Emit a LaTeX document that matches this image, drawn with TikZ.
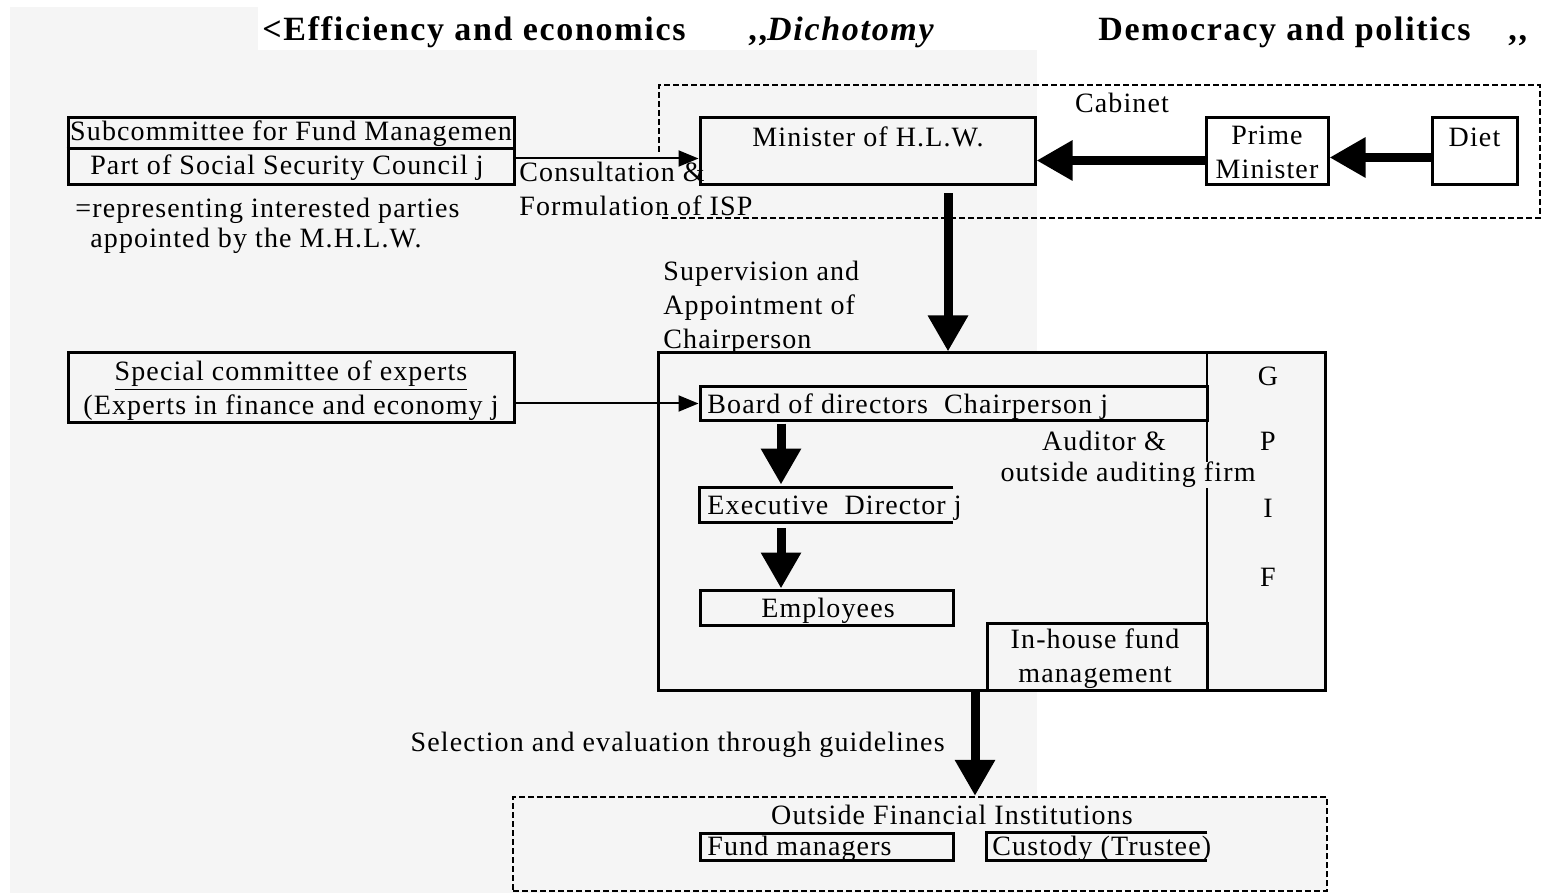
\documentclass[tikz,border=0pt]{standalone}
\usepackage{fontspec}
\setmainfont{Liberation Serif}[LetterSpace=4]
\newfontfamily\titlefont{Liberation Serif}[LetterSpace=5]
\usetikzlibrary{arrows.meta,positioning}
\definecolor{fundInk}{HTML}{000000}
\definecolor{fundShade}{HTML}{F5F5F5}

\begin{document}
\begin{tikzpicture}[x=0.5pt,y=-0.5pt,text=fundInk,
  font=\fontsize{14}{17}\selectfont,
  box/.style={draw=fundInk,line width=1.5pt,inner sep=0pt},
  openbox/.style={inner sep=0pt},
  openedge/.style={draw=fundInk,line width=1.5pt},
  dashbox/.style={draw=fundInk,line width=1.1pt,dash pattern=on 3pt off 1.5pt},
  thinarrow/.style={draw=fundInk,line width=1pt,-{Triangle[length=10pt,width=8pt]}},
  bigarrow/.style={draw=fundInk,line width=4.5pt,-{Triangle[length=18pt,width=19pt]}},
  note/.style={inner sep=0pt},
  heading/.style={inner sep=0pt,anchor=base west,font=\titlefont\bfseries\fontsize{17}{20}\selectfont}]
  \path[use as bounding box] (0,0) rectangle (1543,893);
  \fill[fundShade] (10,7) rectangle (258,50);
  \fill[fundShade] (10,50) rectangle (1037,893);

  % Heading row
  \node[heading] (effhead) at (262,41) {<Efficiency and economics};
  \node[heading] (dichot) at (748,41) {,,\textit{Dichotomy}};
  \node[heading] (demhead) at (1098,41) {Democracy and politics};
  \node[heading] (demcomma) at (1508,41) {,,};

  % Cabinet, open at its lower left
  \draw[dashbox] (659,152) -- (659,85) -- (1540,85) -- (1540,218) -- (659,218);
  \node[note] (cabinet) at (1122,103) {Cabinet};
  \node[box,minimum width=167.5pt,minimum height=33.5pt] (minister) at (867.5,151.5) {};
  \node[note] (ministertext) at (868,137) {Minister of H.L.W.};
  \node[box,minimum width=61pt,minimum height=33.5pt] (prime) at (1267,151.5) {};
  \node[note,align=center] (primetext) at (1267,152) {Prime\\Minister};
  \node[box,minimum width=42.5pt,minimum height=33.5pt] (diet) at (1474.5,151.5) {};
  \node[note] (diettext) at (1474.5,137) {Diet};
  \draw[bigarrow] ([yshift=-3pt]diet.west) -- ([yshift=-3pt]prime.east);
  \draw[bigarrow] ([yshift=-4.5pt]prime.west) -- ([yshift=-4.5pt]minister.east);

  % Left-hand committees
  \node[box,minimum width=223pt,minimum height=33.5pt] (subcom) at (291,151.5) {};
  \draw[openedge] ([yshift=1.25pt]subcom.west) -- ([yshift=1.25pt]subcom.east);
  \begin{scope}
    \clip (68,118) rectangle (514,149);
    \node[note] (subcomtop) at (291,134) {Subcommittee for Fund Managemen};
  \end{scope}
  \node[note] (subcombot) at (287,168) {Part of Social Security Council j};
  \node[note,anchor=west] (represent) at (75,211) {=representing interested parties};
  \node[note,anchor=west] (appointed) at (90,241) {appointed by the M.H.L.W.};
  \draw[thinarrow] ([yshift=-3.5pt]subcom.east) -- ([yshift=-3.5pt]minister.west);
  \node[note,anchor=west] (consult) at (519,172) {Consultation \&};
  \node[note,anchor=west] (formul) at (519,206) {Formulation of ISP};

  \node[box,minimum width=223pt,minimum height=34.5pt] (special) at (291,387.5) {};
  \node[note] (specialtop) at (291,376) {\underline{Special committee of experts}};
  \node[note] (specialbot) at (291,408) {(Experts in finance and economy j};

  % GPIF
  \node[box,fill=fundShade,minimum width=333.5pt,minimum height=168.5pt] (gpif) at (991.5,521.5) {};
  \node[note,anchor=north west,align=left] (supervise) at (663,261)
    {Supervision and\\Appointment of\\Chairperson};
  \coordinate (supx) at (948,0);
  \draw[bigarrow,shorten <=3.5pt] (minister.south -| supx) -- (gpif.north -| supx);

  \node[box,minimum width=110pt,minimum height=33.5pt] (inhouse) at (1097,656.5) {};
  \node[note,align=center] (inhousetext) at (1095,659) {In-house fund\\management};
  \coordinate (gpifx) at (1207,0);
  \draw[draw=fundInk,line width=0.6pt] (gpif.north -| gpifx) -- (inhouse.north -| gpifx);
  \foreach \ltr/\y in {G/376,P/441,I/508,F/577}
    {\node[note] (gpif\ltr) at (1268,\y) {\ltr};}

  \node[box,minimum width=253.5pt,minimum height=16.5pt] (board) at (953.5,403.5) {};
  \node[note,anchor=west] (boardtext) at (707,407) {Board of directors \ Chairperson j};
  \draw[thinarrow] (special.east |- board.west) -- (board.west);

  \node[note] (auditor) at (1104,441) {Auditor \&};
  \node[note,fill=fundShade] (auditfirm) at (1128,475) {outside auditing firm};

  \node[openbox,minimum width=126.5pt,minimum height=17pt] (exec) at (826.5,505) {};
  \draw[openedge] (exec.north east) -- (exec.north west) -- (exec.south west) -- (exec.south east);
  \node[note,anchor=west] (exectext) at (707,508) {Executive \ Director j};
  \node[box,minimum width=126.5pt,minimum height=17.5pt] (employ) at (826.5,607.5) {};
  \node[note] (employtext) at (828,611) {Employees};
  \coordinate (orgx) at (781,0);
  \draw[bigarrow,shorten <=1pt,shorten >=1.5pt] (board.south -| orgx) -- (exec.north -| orgx);
  \draw[bigarrow,shorten <=3pt] (exec.south -| orgx) -- (employ.north -| orgx);

  % Outside financial institutions
  \node[dashbox,fill=fundShade,inner sep=0pt,minimum width=407pt,minimum height=47pt] (outside) at (920,844) {};
  \node[note] (outsidetext) at (952,815) {Outside Financial Institutions};
  \node[box,minimum width=126.5pt,minimum height=13.5pt] (fundmgr) at (826.5,846.5) {};
  \node[note,anchor=west] (fundmgrtext) at (707,849) {Fund managers};
  \node[openbox,minimum width=110pt,minimum height=13.5pt] (custody) at (1097,846.5) {};
  \draw[openedge] (custody.north east) -- (custody.north west) -- (custody.south west) -- (custody.south east);
  \node[note,anchor=west] (custodytext) at (992,849) {Custody (Trustee)};
  \coordinate (selx) at (975,0);
  \draw[bigarrow] (gpif.south -| selx) -- (outside.north -| selx);
  \node[note,anchor=east] (selection) at (945,745) {Selection and evaluation through guidelines};
\end{tikzpicture}
\end{document}
